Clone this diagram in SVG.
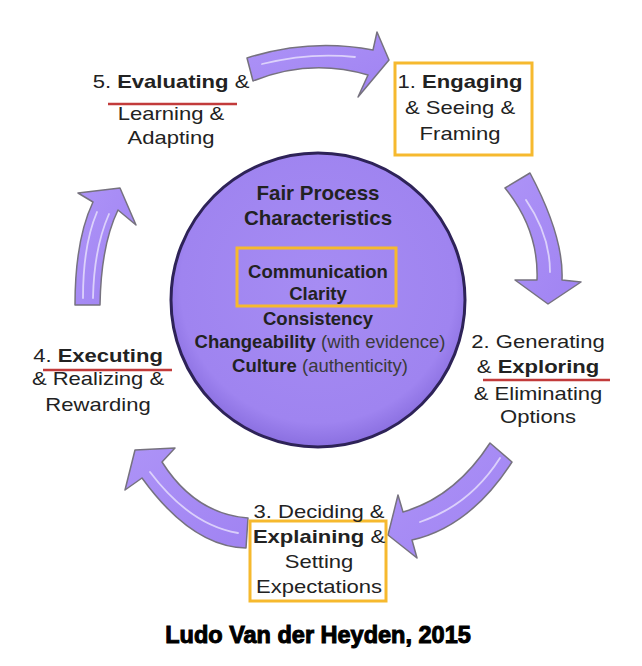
<svg xmlns="http://www.w3.org/2000/svg" width="642" height="666" viewBox="0 0 642 666">
<defs>
<radialGradient id="cg" cx="0.5" cy="0.45" r="0.55">
<stop offset="0" stop-color="#a68cf3"/>
<stop offset="0.85" stop-color="#9f84f0"/>
<stop offset="1" stop-color="#8a6fe0"/>
</radialGradient>
<linearGradient id="ag" x1="0" y1="0" x2="1" y2="1">
<stop offset="0" stop-color="#ad93f7"/>
<stop offset="1" stop-color="#a083f2"/>
</linearGradient>
</defs>
<style>
.arrow{fill:url(#ag);stroke:#76727f;stroke-width:1.5;stroke-linejoin:round}
.hl{fill:none;stroke:#ffffff;stroke-opacity:0.6;stroke-width:1.8;stroke-linecap:round}
.box{fill:none;stroke:#f6b92e;stroke-width:3}
.ul{stroke:#c23b3b;stroke-width:2.5}
text{font-family:"Liberation Sans",Arial,sans-serif;fill:#222;text-anchor:middle}
.lbl{font-size:19px}
.ctr{font-size:18.5px;font-weight:bold}
.hd{font-size:20.5px;font-weight:bold}
.b{font-weight:bold}
.lt{font-weight:normal;fill:#3a3a3a}
.ft{font-size:23.5px;font-weight:bold;fill:#000;stroke:#000;stroke-width:1}
</style>
<rect width="642" height="666" fill="#ffffff"/>

<g id="connectors">
<path class="arrow" d="M 247,58 Q 310,38 373,50 L 377,32 L 389,60 L 358,97 L 368,75 Q 310,58 253,81 Z"/>
<path class="hl" d="M 262,64 Q 310,52 355,57"/>
<path class="arrow" d="M 505,188 Q 539,230 537,280 L 515,280 L 548,304 L 581,282 L 562,280 Q 564,237 530,173 Z"/>
<path class="hl" d="M 526,200 Q 550,235 550,272"/>
<path class="arrow" d="M 490,443 Q 455,497 403,512 L 398,495 L 388,535 L 417,558 L 412,540 Q 470,527 512,462 Z"/>
<path class="hl" d="M 500,458 Q 470,505 420,522"/>
<path class="arrow" d="M 135,450 L 175,448 L 162,462 Q 195,514 248,518 L 246,548 Q 192,547 142,478 L 125,490 Z"/>
<path class="hl" d="M 150,472 Q 190,525 238,533"/>
<path class="arrow" d="M 75,305 Q 75,240 93,202 L 78,193 L 120,188 L 136,225 L 118,210 Q 101,245 100,305 Z"/>
<path class="hl" d="M 83,298 Q 83,245 97,212"/>
<path class="hl" d="M 93,298 Q 94,248 109,214"/>
</g>

<g id="center">
<circle cx="318" cy="300" r="147" fill="url(#cg)" stroke="#2e2358" stroke-width="3"/>
<text class="hd" x="318" y="200">Fair Process</text>
<text class="hd" x="318" y="225">Characteristics</text>
<rect class="box" x="237" y="248" width="159" height="58"/>
<text class="ctr" x="318" y="278">Communication</text>
<text class="ctr" x="318" y="300">Clarity</text>
<text class="ctr" x="318" y="325">Consistency</text>
<text class="ctr" x="320" y="348">Changeability <tspan class="lt">(with evidence)</tspan></text>
<text class="ctr" x="320" y="372">Culture <tspan class="lt">(authenticity)</tspan></text>
</g>

<g id="node1">
<rect class="box" x="395" y="63" width="137" height="92"/>
<g transform="translate(460,0) scale(1.16,1)">
<text class="lbl" x="0" y="88">1. <tspan class="b">Engaging</tspan></text>
<text class="lbl" x="0" y="114">&amp; Seeing &amp;</text>
<text class="lbl" x="0" y="140">Framing</text>
</g>
</g>

<g id="node2">
<g transform="translate(538,0) scale(1.16,1)">
<text class="lbl" x="0" y="348">2. Generating</text>
<text class="lbl" x="0" y="373">&amp; <tspan class="b">Exploring</tspan></text>
<text class="lbl" x="0" y="400">&amp; Eliminating</text>
<text class="lbl" x="0" y="423">Options</text>
</g>
<line class="ul" x1="483" y1="380" x2="610" y2="380"/>
</g>

<g id="node3">
<rect class="box" x="250" y="521" width="136" height="80"/>
<g transform="translate(319,0) scale(1.16,1)">
<text class="lbl" x="0" y="518">3. Deciding &amp;</text>
<text class="lbl" x="0" y="543"><tspan class="b">Explaining</tspan> &amp;</text>
<text class="lbl" x="0" y="568">Setting</text>
<text class="lbl" x="0" y="593">Expectations</text>
</g>
</g>

<g id="node4">
<g transform="translate(98,0) scale(1.16,1)">
<text class="lbl" x="0" y="362">4. <tspan class="b">Executing</tspan></text>
<text class="lbl" x="0" y="385">&amp; Realizing &amp;</text>
<text class="lbl" x="0" y="411">Rewarding</text>
</g>
<line class="ul" x1="43" y1="370" x2="172" y2="370"/>
</g>

<g id="node5">
<g transform="translate(171,0) scale(1.16,1)">
<text class="lbl" x="0" y="88">5. <tspan class="b">Evaluating</tspan> &amp;</text>
<text class="lbl" x="0" y="120">Learning &amp;</text>
<text class="lbl" x="0" y="144">Adapting</text>
</g>
<line class="ul" x1="108" y1="104" x2="237" y2="104"/>
</g>

<g id="footer">
<text class="ft" x="318" y="643">Ludo Van der Heyden, 2015</text>
</g>
</svg>
